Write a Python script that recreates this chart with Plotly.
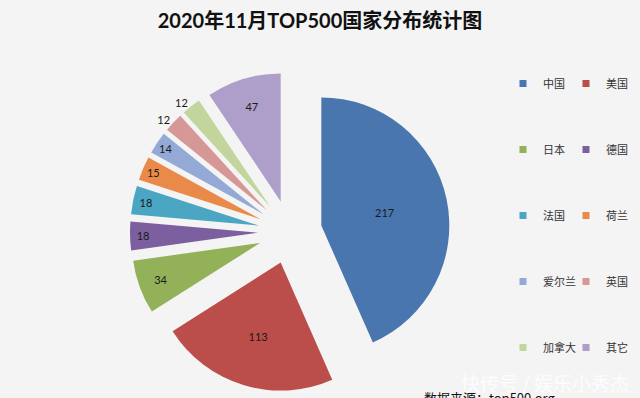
import plotly.graph_objects as go

# ---- data ----
countries = ['中国', '美国', '日本', '德国', '法国', '荷兰', '爱尔兰', '英国', '加拿大', '其它']
systems = [217, 113, 34, 18, 18, 15, 14, 12, 12, 47]
colors = ['#4a76b0', '#bb4d4a', '#93b158', '#7c5f9e', '#4aa6c2', '#ea8a4a',
          '#93aad6', '#d69896', '#c2d59c', '#ad9fc9']
label_pos = ['inside', 'inside', 'inside', 'inside', 'inside', 'inside', 'inside',
             'outside', 'outside', 'inside']
legend_col1 = ['中国', '日本', '法国', '爱尔兰', '加拿大']

title_text = '2020年11月TOP500国家分布统计图'
source_text = '数据来源：top500.org'
watermark_text = '快传号 / 娱乐小秀杰'

W, H = 640, 398
BG = '#f4f4f4'
FONT = 'Lato, Noto Sans CJK SC, sans-serif'

fig = go.Figure()

fig.add_trace(go.Pie(
    labels=countries,
    values=systems,
    sort=False,
    direction='clockwise',
    rotation=0,
    pull=0.25,
    marker=dict(colors=colors, line=dict(width=0)),
    textinfo='value',
    textposition=label_pos,
    insidetextorientation='horizontal',
    textfont=dict(family=FONT, size=11, color='#1a1a1a'),
    domain=dict(x=[0.2031, 0.7031], y=[0.0151, 0.8191]),
    showlegend=False,
    hoverinfo='label+value+percent',
))

# legend entries (two columns)
for name, c in zip(countries, colors):
    fig.add_trace(go.Scatter(
        x=[None], y=[None], mode='markers',
        marker=dict(symbol='square', size=7, color=c),
        name=name, legendgroup=name,
        legend='legend' if name in legend_col1 else 'legend2',
    ))

leg_common = dict(
    bgcolor='rgba(0,0,0,0)', borderwidth=0,
    font=dict(family='Noto Sans CJK SC, sans-serif', size=11, color='#333333'),
    tracegroupgap=47, itemwidth=30,
    yanchor='top', xanchor='left',
)

fig.update_layout(
    width=W, height=H,
    margin=dict(l=0, r=0, t=0, b=0, autoexpand=False),
    paper_bgcolor=BG, plot_bgcolor=BG,
    title=dict(text=title_text, x=0.5, xanchor='center',
               y=1 - 21 / H, yanchor='middle', yref='container',
               font=dict(family=FONT, size=20, color='#111111', weight='bold')),
    xaxis=dict(visible=False), yaxis=dict(visible=False),
    legend=dict(x=503 / W, y=(H - 69) / H, **leg_common),
    legend2=dict(x=566 / W, y=(H - 69) / H, **leg_common),
    annotations=[
        dict(text=watermark_text, x=545 / W, y=(H - 382) / H, xref='paper', yref='paper',
             xanchor='center', yanchor='middle', showarrow=False,
             font=dict(family='Noto Sans CJK SC, sans-serif', size=19, color='rgba(255,255,255,0.85)')),
        dict(text=source_text, x=422 / W, y=(H - 386) / H, xref='paper', yref='paper',
             xanchor='left', yanchor='top', showarrow=False,
             font=dict(family='Noto Sans CJK SC, sans-serif', size=13, color='#111111')),
    ],
)

fig.write_html('out.html', config={'displayModeBar': False},
               post_script="document.body.style.margin='0';document.body.style.overflow='hidden';")
